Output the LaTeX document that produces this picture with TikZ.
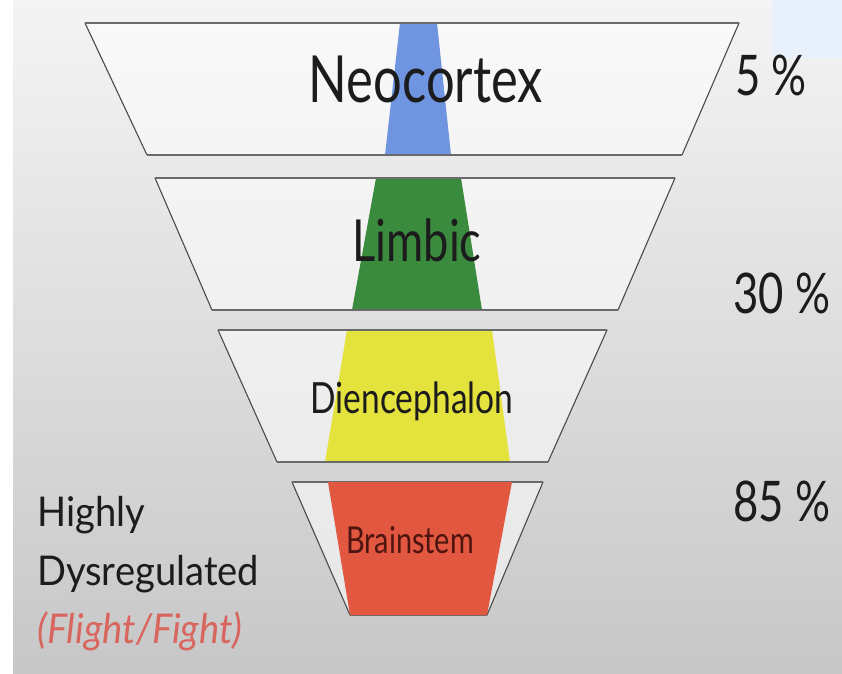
\documentclass[tikz,border=0pt]{standalone}
\usepackage{fontspec}
\setmainfont{Lato}
\newfontfamily\condfont[FakeStretch=0.78]{Lato}
\newfontfamily\sidefont[FakeStretch=0.93]{Lato}

\definecolor{bgtop}{HTML}{F4F4F4}
\definecolor{bgmid}{HTML}{E8E8E8}
\definecolor{bgbot}{HTML}{C7C7C7}
\definecolor{rimgray}{HTML}{6A6A6A}
\definecolor{sidegray}{HTML}{4A4A4A}
\definecolor{cortexblue}{HTML}{6F94E0}
\definecolor{limbicgreen}{HTML}{3B8B3F}
\definecolor{dienyellow}{HTML}{E4E23C}
\definecolor{stemred}{HTML}{E1573F}
\definecolor{stemtext}{HTML}{4E1510}
\definecolor{fightred}{HTML}{D8665E}
\definecolor{cornerblue}{HTML}{E7F0FB}
\definecolor{ink}{HTML}{1C1C1C}

\begin{document}
\begin{tikzpicture}[x=1pt,y=-1pt,
  layer/.style={fill=white, fill opacity=0.55},
  rim/.style={draw=rimgray, line width=2pt},
  side/.style={draw=sidegray, line width=1.1pt, line cap=round},
  bigtext/.style={text=ink, inner sep=0pt, anchor=base},
  pct/.style={text=ink, inner sep=0pt, anchor=base west, font=\condfont\fontsize{56}{56}\selectfont},
  note/.style={text=ink, inner sep=0pt, anchor=base west, font=\sidefont\fontsize{41}{41}\selectfont}]

\useasboundingbox (0,0) rectangle (842,673);

% background
\fill[white] (0,0) rectangle (842,673);
\shade[top color=bgtop, middle color=bgmid, bottom color=bgbot] (13,0) rectangle (842,673);
\fill[cornerblue] (772,0) rectangle (842,58);

% layer 1: neocortex
\fill[layer] (85,23) -- (739,23) -- (682,155) -- (147,155) -- cycle;
\fill[cortexblue] (400,23) -- (437,23) -- (451,155) -- (385,155) -- cycle;
\draw[side] (85,23) -- (147,155) (739,23) -- (682,155);
\draw[rim] (85,23) -- (739,23) (147,155) -- (682,155);

% layer 2: limbic
\fill[layer] (155,178) -- (675,178) -- (618,310) -- (212,310) -- cycle;
\fill[limbicgreen] (376,178) -- (461,178) -- (482,310) -- (352,310) -- cycle;
\draw[side] (155,178) -- (212,310) (675,178) -- (618,310);
\draw[rim] (155,178) -- (675,178) (212,310) -- (618,310);

% layer 3: diencephalon
\fill[layer] (218,330) -- (607,330) -- (548,462) -- (277,462) -- cycle;
\fill[dienyellow] (347,330) -- (492,330) -- (510,462) -- (325,462) -- cycle;
\draw[side] (218,330) -- (277,462) (607,330) -- (548,462);
\draw[rim] (218,330) -- (607,330) (277,462) -- (548,462);

% layer 4: brainstem
\fill[layer] (292,482) -- (543,482) -- (487,615) -- (350,615) -- cycle;
\draw[side] (292,482) -- (350,615) (543,482) -- (487,615);
\draw[rim] (292,482) -- (543,482) (350,615) -- (487,615);
\fill[stemred] (328,482) -- (512,482) -- (487,615) -- (350,615) -- cycle;

% layer labels
\node[bigtext, font=\condfont\fontsize{65}{65}\selectfont] (neo) at (426,102) {Neocortex};
\node[bigtext, font=\condfont\fontsize{58}{58}\selectfont] (lim) at (417,261) {Limbic};
\node[bigtext, font=\condfont\fontsize{43}{43}\selectfont] (die) at (412,413) {Diencephalon};
\node[bigtext, text=stemtext, font=\condfont\fontsize{37}{37}\selectfont] (bst) at (410,553) {Brainstem};

% percentages
\node[pct] (p5) at (735,95) {5 \%};
\node[pct] (p30) at (733,313) {30 \%};
\node[pct] (p85) at (733,521) {85 \%};

% side note
\node[note] (n1) at (37,526) {Highly};
\node[note] (n2) at (37,585) {Dysregulated};
\node[note, text=fightred, font=\sidefont\itshape\fontsize{41}{41}\selectfont] (n3) at (37,643) {(Flight/Fight)};
\end{tikzpicture}
\end{document}
